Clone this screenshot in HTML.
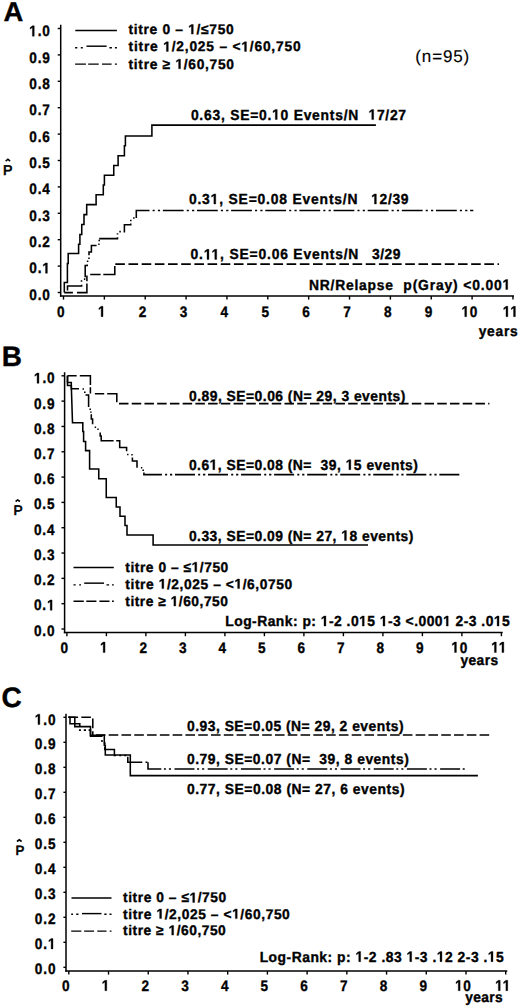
<!DOCTYPE html>
<html><head><meta charset="utf-8"><style>
html,body{margin:0;padding:0;background:#fff;}
svg{display:block;}
text{font-family:"Liberation Sans",sans-serif;fill:#000;stroke:#000;white-space:pre;text-rendering:geometricPrecision;}
.h{fill:transparent;stroke:none;}
.one{fill:#000;stroke:#000;}
path{stroke:#000;fill:none;stroke-linecap:butt;}
</style></head><body>
<svg width="520" height="1006" viewBox="0 0 520 1006" xmlns="http://www.w3.org/2000/svg">
<rect width="520" height="1006" fill="#fff"/>
<path d="M60.7 24.8 V296.75" stroke-width="1.5"/>
<path d="M59.95 296.0 H514" stroke-width="1.5"/>
<path d="M57.7 28.50 H60.7" stroke-width="1.4"/>
<g transform="translate(29.21 36.21) scale(0.9000 1)"><text id="t1" font-size="15.10" font-weight="bold" style="letter-spacing:0.998px;stroke-width:0.35px;"><tspan class="h">1</tspan>.0</text><path class="one" d="M478 0L478 1170L140 959L140 1180L493 1409L759 1409L759 0Z" transform="translate(0.000 0) scale(0.00737 -0.00737)" stroke-width="47.47"/></g>
<path d="M57.7 54.90 H60.7" stroke-width="1.4"/>
<g transform="translate(29.21 62.55) scale(0.9000 1)"><text id="t2" font-size="15.10" font-weight="bold" style="letter-spacing:0.998px;stroke-width:0.35px;">0.9</text></g>
<path d="M57.7 81.30 H60.7" stroke-width="1.4"/>
<g transform="translate(29.21 88.90) scale(0.9000 1)"><text id="t3" font-size="15.10" font-weight="bold" style="letter-spacing:0.998px;stroke-width:0.35px;">0.8</text></g>
<path d="M57.7 107.70 H60.7" stroke-width="1.4"/>
<g transform="translate(29.21 115.24) scale(0.9000 1)"><text id="t4" font-size="15.10" font-weight="bold" style="letter-spacing:0.998px;stroke-width:0.35px;">0.7</text></g>
<path d="M57.7 134.10 H60.7" stroke-width="1.4"/>
<g transform="translate(29.21 141.59) scale(0.9000 1)"><text id="t5" font-size="15.10" font-weight="bold" style="letter-spacing:0.998px;stroke-width:0.35px;">0.6</text></g>
<path d="M57.7 160.50 H60.7" stroke-width="1.4"/>
<g transform="translate(29.21 167.93) scale(0.9000 1)"><text id="t6" font-size="15.10" font-weight="bold" style="letter-spacing:0.998px;stroke-width:0.35px;">0.5</text></g>
<path d="M57.7 186.90 H60.7" stroke-width="1.4"/>
<g transform="translate(29.21 194.28) scale(0.9000 1)"><text id="t7" font-size="15.10" font-weight="bold" style="letter-spacing:0.998px;stroke-width:0.35px;">0.4</text></g>
<path d="M57.7 213.30 H60.7" stroke-width="1.4"/>
<g transform="translate(29.21 220.62) scale(0.9000 1)"><text id="t8" font-size="15.10" font-weight="bold" style="letter-spacing:0.998px;stroke-width:0.35px;">0.3</text></g>
<path d="M57.7 239.70 H60.7" stroke-width="1.4"/>
<g transform="translate(29.21 246.97) scale(0.9000 1)"><text id="t9" font-size="15.10" font-weight="bold" style="letter-spacing:0.998px;stroke-width:0.35px;">0.2</text></g>
<path d="M57.7 266.10 H60.7" stroke-width="1.4"/>
<g transform="translate(29.21 273.31) scale(0.9000 1)"><text id="t10" font-size="15.10" font-weight="bold" style="letter-spacing:0.998px;stroke-width:0.35px;">0.<tspan class="h">1</tspan></text><path class="one" d="M478 0L478 1170L140 959L140 1180L493 1409L759 1409L759 0Z" transform="translate(14.594 0) scale(0.00737 -0.00737)" stroke-width="47.47"/></g>
<path d="M57.7 292.50 H60.7" stroke-width="1.4"/>
<g transform="translate(29.21 299.66) scale(0.9000 1)"><text id="t11" font-size="15.10" font-weight="bold" style="letter-spacing:0.998px;stroke-width:0.35px;">0.0</text></g>
<path d="M63.50 296.0 V299.6" stroke-width="1.4"/>
<g transform="translate(57.12 316.70) scale(0.9000 1)"><text id="t12" font-size="15.10" font-weight="bold" style="letter-spacing:0.800px;stroke-width:0.35px;">0</text></g>
<path d="M104.36 296.0 V299.6" stroke-width="1.4"/>
<g transform="translate(97.98 316.70) scale(0.9000 1)"><text id="t13" font-size="15.10" font-weight="bold" style="letter-spacing:0.800px;stroke-width:0.35px;"><tspan class="h">1</tspan></text><path class="one" d="M478 0L478 1170L140 959L140 1180L493 1409L759 1409L759 0Z" transform="translate(0.000 0) scale(0.00737 -0.00737)" stroke-width="47.47"/></g>
<path d="M145.22 296.0 V299.6" stroke-width="1.4"/>
<g transform="translate(138.84 316.70) scale(0.9000 1)"><text id="t14" font-size="15.10" font-weight="bold" style="letter-spacing:0.800px;stroke-width:0.35px;">2</text></g>
<path d="M186.08 296.0 V299.6" stroke-width="1.4"/>
<g transform="translate(179.70 316.70) scale(0.9000 1)"><text id="t15" font-size="15.10" font-weight="bold" style="letter-spacing:0.800px;stroke-width:0.35px;">3</text></g>
<path d="M226.94 296.0 V299.6" stroke-width="1.4"/>
<g transform="translate(220.56 316.70) scale(0.9000 1)"><text id="t16" font-size="15.10" font-weight="bold" style="letter-spacing:0.800px;stroke-width:0.35px;">4</text></g>
<path d="M267.80 296.0 V299.6" stroke-width="1.4"/>
<g transform="translate(261.42 316.70) scale(0.9000 1)"><text id="t17" font-size="15.10" font-weight="bold" style="letter-spacing:0.800px;stroke-width:0.35px;">5</text></g>
<path d="M308.66 296.0 V299.6" stroke-width="1.4"/>
<g transform="translate(302.28 316.70) scale(0.9000 1)"><text id="t18" font-size="15.10" font-weight="bold" style="letter-spacing:0.800px;stroke-width:0.35px;">6</text></g>
<path d="M349.52 296.0 V299.6" stroke-width="1.4"/>
<g transform="translate(343.14 316.70) scale(0.9000 1)"><text id="t19" font-size="15.10" font-weight="bold" style="letter-spacing:0.800px;stroke-width:0.35px;">7</text></g>
<path d="M390.38 296.0 V299.6" stroke-width="1.4"/>
<g transform="translate(384.00 316.70) scale(0.9000 1)"><text id="t20" font-size="15.10" font-weight="bold" style="letter-spacing:0.800px;stroke-width:0.35px;">8</text></g>
<path d="M431.24 296.0 V299.6" stroke-width="1.4"/>
<g transform="translate(424.86 316.70) scale(0.9000 1)"><text id="t21" font-size="15.10" font-weight="bold" style="letter-spacing:0.800px;stroke-width:0.35px;">9</text></g>
<path d="M472.10 296.0 V299.6" stroke-width="1.4"/>
<g transform="translate(461.58 316.70) scale(0.9000 1)"><text id="t22" font-size="15.10" font-weight="bold" style="letter-spacing:0.800px;stroke-width:0.35px;"><tspan class="h">1</tspan>0</text><path class="one" d="M478 0L478 1170L140 959L140 1180L493 1409L759 1409L759 0Z" transform="translate(0.000 0) scale(0.00737 -0.00737)" stroke-width="47.47"/></g>
<path d="M512.96 296.0 V299.6" stroke-width="1.4"/>
<g transform="translate(502.82 316.70) scale(0.9000 1)"><text id="t23" font-size="15.10" font-weight="bold" style="letter-spacing:0.800px;stroke-width:0.35px;"><tspan class="h">1</tspan><tspan class="h">1</tspan></text><path class="one" d="M478 0L478 1170L140 959L140 1180L493 1409L759 1409L759 0Z" transform="translate(0.000 0) scale(0.00737 -0.00737)" stroke-width="47.47"/><path class="one" d="M478 0L478 1170L140 959L140 1180L493 1409L759 1409L759 0Z" transform="translate(8.375 0) scale(0.00737 -0.00737)" stroke-width="47.47"/></g>
<path d="M64.6 372.3 V633.15" stroke-width="1.5"/>
<path d="M63.849999999999994 632.4 H502.7" stroke-width="1.5"/>
<path d="M61.49999999999999 375.80 H64.6" stroke-width="1.4"/>
<g transform="translate(33.91 383.36) scale(0.9000 1)"><text id="t24" font-size="15.10" font-weight="bold" style="letter-spacing:0.998px;stroke-width:0.35px;"><tspan class="h">1</tspan>.0</text><path class="one" d="M478 0L478 1170L140 959L140 1180L493 1409L759 1409L759 0Z" transform="translate(0.000 0) scale(0.00737 -0.00737)" stroke-width="47.47"/></g>
<path d="M61.49999999999999 401.12 H64.6" stroke-width="1.4"/>
<g transform="translate(33.91 408.57) scale(0.9000 1)"><text id="t25" font-size="15.10" font-weight="bold" style="letter-spacing:0.998px;stroke-width:0.35px;">0.9</text></g>
<path d="M61.49999999999999 426.44 H64.6" stroke-width="1.4"/>
<g transform="translate(33.91 433.79) scale(0.9000 1)"><text id="t26" font-size="15.10" font-weight="bold" style="letter-spacing:0.998px;stroke-width:0.35px;">0.8</text></g>
<path d="M61.49999999999999 451.76 H64.6" stroke-width="1.4"/>
<g transform="translate(33.91 459.00) scale(0.9000 1)"><text id="t27" font-size="15.10" font-weight="bold" style="letter-spacing:0.998px;stroke-width:0.35px;">0.7</text></g>
<path d="M61.49999999999999 477.08 H64.6" stroke-width="1.4"/>
<g transform="translate(33.91 484.22) scale(0.9000 1)"><text id="t28" font-size="15.10" font-weight="bold" style="letter-spacing:0.998px;stroke-width:0.35px;">0.6</text></g>
<path d="M61.49999999999999 502.40 H64.6" stroke-width="1.4"/>
<g transform="translate(33.91 509.43) scale(0.9000 1)"><text id="t29" font-size="15.10" font-weight="bold" style="letter-spacing:0.998px;stroke-width:0.35px;">0.5</text></g>
<path d="M61.49999999999999 527.72 H64.6" stroke-width="1.4"/>
<g transform="translate(33.91 534.65) scale(0.9000 1)"><text id="t30" font-size="15.10" font-weight="bold" style="letter-spacing:0.998px;stroke-width:0.35px;">0.4</text></g>
<path d="M61.49999999999999 553.04 H64.6" stroke-width="1.4"/>
<g transform="translate(33.91 559.86) scale(0.9000 1)"><text id="t31" font-size="15.10" font-weight="bold" style="letter-spacing:0.998px;stroke-width:0.35px;">0.3</text></g>
<path d="M61.49999999999999 578.36 H64.6" stroke-width="1.4"/>
<g transform="translate(33.91 585.08) scale(0.9000 1)"><text id="t32" font-size="15.10" font-weight="bold" style="letter-spacing:0.998px;stroke-width:0.35px;">0.2</text></g>
<path d="M61.49999999999999 603.68 H64.6" stroke-width="1.4"/>
<g transform="translate(33.91 610.29) scale(0.9000 1)"><text id="t33" font-size="15.10" font-weight="bold" style="letter-spacing:0.998px;stroke-width:0.35px;">0.<tspan class="h">1</tspan></text><path class="one" d="M478 0L478 1170L140 959L140 1180L493 1409L759 1409L759 0Z" transform="translate(14.594 0) scale(0.00737 -0.00737)" stroke-width="47.47"/></g>
<path d="M61.49999999999999 629.00 H64.6" stroke-width="1.4"/>
<g transform="translate(33.91 635.51) scale(0.9000 1)"><text id="t34" font-size="15.10" font-weight="bold" style="letter-spacing:0.998px;stroke-width:0.35px;">0.0</text></g>
<path d="M66.90 632.4 V636.1999999999999" stroke-width="1.4"/>
<g transform="translate(60.52 652.50) scale(0.9000 1)"><text id="t35" font-size="15.10" font-weight="bold" style="letter-spacing:0.800px;stroke-width:0.35px;">0</text></g>
<path d="M106.40 632.4 V636.1999999999999" stroke-width="1.4"/>
<g transform="translate(100.02 652.50) scale(0.9000 1)"><text id="t36" font-size="15.10" font-weight="bold" style="letter-spacing:0.800px;stroke-width:0.35px;"><tspan class="h">1</tspan></text><path class="one" d="M478 0L478 1170L140 959L140 1180L493 1409L759 1409L759 0Z" transform="translate(0.000 0) scale(0.00737 -0.00737)" stroke-width="47.47"/></g>
<path d="M145.90 632.4 V636.1999999999999" stroke-width="1.4"/>
<g transform="translate(139.52 652.50) scale(0.9000 1)"><text id="t37" font-size="15.10" font-weight="bold" style="letter-spacing:0.800px;stroke-width:0.35px;">2</text></g>
<path d="M185.40 632.4 V636.1999999999999" stroke-width="1.4"/>
<g transform="translate(179.02 652.50) scale(0.9000 1)"><text id="t38" font-size="15.10" font-weight="bold" style="letter-spacing:0.800px;stroke-width:0.35px;">3</text></g>
<path d="M224.90 632.4 V636.1999999999999" stroke-width="1.4"/>
<g transform="translate(218.52 652.50) scale(0.9000 1)"><text id="t39" font-size="15.10" font-weight="bold" style="letter-spacing:0.800px;stroke-width:0.35px;">4</text></g>
<path d="M264.40 632.4 V636.1999999999999" stroke-width="1.4"/>
<g transform="translate(258.02 652.50) scale(0.9000 1)"><text id="t40" font-size="15.10" font-weight="bold" style="letter-spacing:0.800px;stroke-width:0.35px;">5</text></g>
<path d="M303.90 632.4 V636.1999999999999" stroke-width="1.4"/>
<g transform="translate(297.52 652.50) scale(0.9000 1)"><text id="t41" font-size="15.10" font-weight="bold" style="letter-spacing:0.800px;stroke-width:0.35px;">6</text></g>
<path d="M343.40 632.4 V636.1999999999999" stroke-width="1.4"/>
<g transform="translate(337.02 652.50) scale(0.9000 1)"><text id="t42" font-size="15.10" font-weight="bold" style="letter-spacing:0.800px;stroke-width:0.35px;">7</text></g>
<path d="M382.90 632.4 V636.1999999999999" stroke-width="1.4"/>
<g transform="translate(376.52 652.50) scale(0.9000 1)"><text id="t43" font-size="15.10" font-weight="bold" style="letter-spacing:0.800px;stroke-width:0.35px;">8</text></g>
<path d="M422.40 632.4 V636.1999999999999" stroke-width="1.4"/>
<g transform="translate(416.02 652.50) scale(0.9000 1)"><text id="t44" font-size="15.10" font-weight="bold" style="letter-spacing:0.800px;stroke-width:0.35px;">9</text></g>
<path d="M461.90 632.4 V636.1999999999999" stroke-width="1.4"/>
<g transform="translate(451.38 652.50) scale(0.9000 1)"><text id="t45" font-size="15.10" font-weight="bold" style="letter-spacing:0.800px;stroke-width:0.35px;"><tspan class="h">1</tspan>0</text><path class="one" d="M478 0L478 1170L140 959L140 1180L493 1409L759 1409L759 0Z" transform="translate(0.000 0) scale(0.00737 -0.00737)" stroke-width="47.47"/></g>
<path d="M501.40 632.4 V636.1999999999999" stroke-width="1.4"/>
<g transform="translate(491.26 652.50) scale(0.9000 1)"><text id="t46" font-size="15.10" font-weight="bold" style="letter-spacing:0.800px;stroke-width:0.35px;"><tspan class="h">1</tspan><tspan class="h">1</tspan></text><path class="one" d="M478 0L478 1170L140 959L140 1180L493 1409L759 1409L759 0Z" transform="translate(0.000 0) scale(0.00737 -0.00737)" stroke-width="47.47"/><path class="one" d="M478 0L478 1170L140 959L140 1180L493 1409L759 1409L759 0Z" transform="translate(8.375 0) scale(0.00737 -0.00737)" stroke-width="47.47"/></g>
<path d="M66.0 713.7 V971.85" stroke-width="1.5"/>
<path d="M65.25 971.1 H507.3" stroke-width="1.5"/>
<path d="M63.4 717.30 H66.0" stroke-width="1.4"/>
<g transform="translate(34.81 724.56) scale(0.9000 1)"><text id="t47" font-size="15.10" font-weight="bold" style="letter-spacing:0.998px;stroke-width:0.35px;"><tspan class="h">1</tspan>.0</text><path class="one" d="M478 0L478 1170L140 959L140 1180L493 1409L759 1409L759 0Z" transform="translate(0.000 0) scale(0.00737 -0.00737)" stroke-width="47.47"/></g>
<path d="M63.4 742.30 H66.0" stroke-width="1.4"/>
<g transform="translate(34.81 749.49) scale(0.9000 1)"><text id="t48" font-size="15.10" font-weight="bold" style="letter-spacing:0.998px;stroke-width:0.35px;">0.9</text></g>
<path d="M63.4 767.30 H66.0" stroke-width="1.4"/>
<g transform="translate(34.81 774.42) scale(0.9000 1)"><text id="t49" font-size="15.10" font-weight="bold" style="letter-spacing:0.998px;stroke-width:0.35px;">0.8</text></g>
<path d="M63.4 792.30 H66.0" stroke-width="1.4"/>
<g transform="translate(34.81 799.35) scale(0.9000 1)"><text id="t50" font-size="15.10" font-weight="bold" style="letter-spacing:0.998px;stroke-width:0.35px;">0.7</text></g>
<path d="M63.4 817.30 H66.0" stroke-width="1.4"/>
<g transform="translate(34.81 824.28) scale(0.9000 1)"><text id="t51" font-size="15.10" font-weight="bold" style="letter-spacing:0.998px;stroke-width:0.35px;">0.6</text></g>
<path d="M63.4 842.30 H66.0" stroke-width="1.4"/>
<g transform="translate(34.81 849.21) scale(0.9000 1)"><text id="t52" font-size="15.10" font-weight="bold" style="letter-spacing:0.998px;stroke-width:0.35px;">0.5</text></g>
<path d="M63.4 867.30 H66.0" stroke-width="1.4"/>
<g transform="translate(34.81 874.14) scale(0.9000 1)"><text id="t53" font-size="15.10" font-weight="bold" style="letter-spacing:0.998px;stroke-width:0.35px;">0.4</text></g>
<path d="M63.4 892.30 H66.0" stroke-width="1.4"/>
<g transform="translate(34.81 899.07) scale(0.9000 1)"><text id="t54" font-size="15.10" font-weight="bold" style="letter-spacing:0.998px;stroke-width:0.35px;">0.3</text></g>
<path d="M63.4 917.30 H66.0" stroke-width="1.4"/>
<g transform="translate(34.81 924.00) scale(0.9000 1)"><text id="t55" font-size="15.10" font-weight="bold" style="letter-spacing:0.998px;stroke-width:0.35px;">0.2</text></g>
<path d="M63.4 942.30 H66.0" stroke-width="1.4"/>
<g transform="translate(34.81 948.93) scale(0.9000 1)"><text id="t56" font-size="15.10" font-weight="bold" style="letter-spacing:0.998px;stroke-width:0.35px;">0.<tspan class="h">1</tspan></text><path class="one" d="M478 0L478 1170L140 959L140 1180L493 1409L759 1409L759 0Z" transform="translate(14.594 0) scale(0.00737 -0.00737)" stroke-width="47.47"/></g>
<path d="M63.4 967.30 H66.0" stroke-width="1.4"/>
<g transform="translate(34.81 973.86) scale(0.9000 1)"><text id="t57" font-size="15.10" font-weight="bold" style="letter-spacing:0.998px;stroke-width:0.35px;">0.0</text></g>
<path d="M68.80 971.1 V974.6" stroke-width="1.4"/>
<g transform="translate(62.02 990.70) scale(0.9000 1)"><text id="t58" font-size="15.10" font-weight="bold" style="letter-spacing:0.800px;stroke-width:0.35px;">0</text></g>
<path d="M108.52 971.1 V974.6" stroke-width="1.4"/>
<g transform="translate(101.74 990.70) scale(0.9000 1)"><text id="t59" font-size="15.10" font-weight="bold" style="letter-spacing:0.800px;stroke-width:0.35px;"><tspan class="h">1</tspan></text><path class="one" d="M478 0L478 1170L140 959L140 1180L493 1409L759 1409L759 0Z" transform="translate(0.000 0) scale(0.00737 -0.00737)" stroke-width="47.47"/></g>
<path d="M148.24 971.1 V974.6" stroke-width="1.4"/>
<g transform="translate(141.46 990.70) scale(0.9000 1)"><text id="t60" font-size="15.10" font-weight="bold" style="letter-spacing:0.800px;stroke-width:0.35px;">2</text></g>
<path d="M187.96 971.1 V974.6" stroke-width="1.4"/>
<g transform="translate(181.18 990.70) scale(0.9000 1)"><text id="t61" font-size="15.10" font-weight="bold" style="letter-spacing:0.800px;stroke-width:0.35px;">3</text></g>
<path d="M227.68 971.1 V974.6" stroke-width="1.4"/>
<g transform="translate(220.90 990.70) scale(0.9000 1)"><text id="t62" font-size="15.10" font-weight="bold" style="letter-spacing:0.800px;stroke-width:0.35px;">4</text></g>
<path d="M267.40 971.1 V974.6" stroke-width="1.4"/>
<g transform="translate(260.62 990.70) scale(0.9000 1)"><text id="t63" font-size="15.10" font-weight="bold" style="letter-spacing:0.800px;stroke-width:0.35px;">5</text></g>
<path d="M307.12 971.1 V974.6" stroke-width="1.4"/>
<g transform="translate(300.34 990.70) scale(0.9000 1)"><text id="t64" font-size="15.10" font-weight="bold" style="letter-spacing:0.800px;stroke-width:0.35px;">6</text></g>
<path d="M346.84 971.1 V974.6" stroke-width="1.4"/>
<g transform="translate(340.06 990.70) scale(0.9000 1)"><text id="t65" font-size="15.10" font-weight="bold" style="letter-spacing:0.800px;stroke-width:0.35px;">7</text></g>
<path d="M386.56 971.1 V974.6" stroke-width="1.4"/>
<g transform="translate(379.78 990.70) scale(0.9000 1)"><text id="t66" font-size="15.10" font-weight="bold" style="letter-spacing:0.800px;stroke-width:0.35px;">8</text></g>
<path d="M426.28 971.1 V974.6" stroke-width="1.4"/>
<g transform="translate(419.50 990.70) scale(0.9000 1)"><text id="t67" font-size="15.10" font-weight="bold" style="letter-spacing:0.800px;stroke-width:0.35px;">9</text></g>
<path d="M466.00 971.1 V974.6" stroke-width="1.4"/>
<g transform="translate(455.08 990.70) scale(0.9000 1)"><text id="t68" font-size="15.10" font-weight="bold" style="letter-spacing:0.800px;stroke-width:0.35px;"><tspan class="h">1</tspan>0</text><path class="one" d="M478 0L478 1170L140 959L140 1180L493 1409L759 1409L759 0Z" transform="translate(0.000 0) scale(0.00737 -0.00737)" stroke-width="47.47"/></g>
<path d="M505.72 971.1 V974.6" stroke-width="1.4"/>
<g transform="translate(495.18 990.70) scale(0.9000 1)"><text id="t69" font-size="15.10" font-weight="bold" style="letter-spacing:0.800px;stroke-width:0.35px;"><tspan class="h">1</tspan><tspan class="h">1</tspan></text><path class="one" d="M478 0L478 1170L140 959L140 1180L493 1409L759 1409L759 0Z" transform="translate(0.000 0) scale(0.00737 -0.00737)" stroke-width="47.47"/><path class="one" d="M478 0L478 1170L140 959L140 1180L493 1409L759 1409L759 0Z" transform="translate(8.375 0) scale(0.00737 -0.00737)" stroke-width="47.47"/></g>
<g transform="translate(3.52 21.15) scale(1.0000 1)"><text id="t70" font-size="27.39" font-weight="bold" style="letter-spacing:0.000px;stroke-width:0.35px;">A</text></g>
<g transform="translate(1.63 366.15) scale(1.0000 1)"><text id="t71" font-size="27.97" font-weight="bold" style="letter-spacing:0.000px;stroke-width:0.35px;">B</text></g>
<g transform="translate(1.52 706.87) scale(1.0000 1)"><text id="t72" font-size="28.17" font-weight="bold" style="letter-spacing:0.000px;stroke-width:0.35px;">C</text></g>
<g transform="translate(478.71 336.10) scale(0.9500 1)"><text id="t73" font-size="14.50" font-weight="bold" style="letter-spacing:0.781px;stroke-width:0.35px;">years</text></g>
<g transform="translate(460.41 664.50) scale(0.9500 1)"><text id="t74" font-size="14.50" font-weight="bold" style="letter-spacing:0.465px;stroke-width:0.35px;">years</text></g>
<g transform="translate(465.31 1002.45) scale(0.9500 1)"><text id="t75" font-size="14.50" font-weight="bold" style="letter-spacing:0.360px;stroke-width:0.35px;">years</text></g>
<g transform="translate(3.06 174.80) scale(1.0000 1)"><text id="t76" font-size="14.20" font-weight="normal" style="letter-spacing:0.000px;stroke-width:0.7px;">P</text></g>
<path d="M5.70 161.10 L7.90 159.20 L10.10 161.10" stroke-width="1.6" fill="none"/>
<g transform="translate(13.60 515.10) scale(1.0000 1)"><text id="t77" font-size="13.77" font-weight="normal" style="letter-spacing:0.000px;stroke-width:0.7px;">P</text></g>
<path d="M15.60 501.50 L17.75 499.90 L19.90 501.50" stroke-width="1.6" fill="none"/>
<g transform="translate(15.43 854.90) scale(1.0000 1)"><text id="t78" font-size="13.33" font-weight="normal" style="letter-spacing:0.000px;stroke-width:0.7px;">P</text></g>
<path d="M17.00 841.50 L19.30 839.80 L21.60 841.50" stroke-width="1.6" fill="none"/>
<g transform="translate(415.33 62.38) scale(1.0000 1)"><text id="t79" font-size="17.00" font-weight="normal" style="letter-spacing:0.857px;stroke-width:0.15px;">(n=95)</text></g>
<path d="M75.30 30.45 H116.90" stroke-width="1.45"/>
<path d="M86.50 46.2 H106.60" stroke-width="1.45"/>
<path d="M75.10 47.75 H77.30 M80.80 47.75 H82.80 M109.40 47.75 H111.90 M114.90 47.75 H116.90" stroke-width="1.45"/>
<path d="M75.10 64.1 H85.90 M88.20 64.1 H98.70 M102.00 64.1 H111.60 M114.90 64.1 H116.90" stroke-width="1.45"/>
<g transform="translate(128.41 34.11) scale(0.9900 1)"><text id="t80" font-size="13.90" font-weight="bold" style="letter-spacing:0.710px;stroke-width:0.35px;">titre 0 – <tspan class="h">1</tspan>/≤750</text><path class="one" d="M478 0L478 1170L140 959L140 1180L493 1409L759 1409L759 0Z" transform="translate(60.375 0) scale(0.00679 -0.00679)" stroke-width="51.57"/></g>
<g transform="translate(128.51 51.41) scale(0.9900 1)"><text id="t81" font-size="13.90" font-weight="bold" style="letter-spacing:0.820px;stroke-width:0.35px;">titre <tspan class="h">1</tspan>/2,025 – &lt;<tspan class="h">1</tspan>/60,750</text><path class="one" d="M478 0L478 1170L140 959L140 1180L493 1409L759 1409L759 0Z" transform="translate(35.031 0) scale(0.00679 -0.00679)" stroke-width="51.57"/><path class="one" d="M478 0L478 1170L140 959L140 1180L493 1409L759 1409L759 0Z" transform="translate(113.969 0) scale(0.00679 -0.00679)" stroke-width="51.57"/></g>
<g transform="translate(128.51 68.71) scale(0.9900 1)"><text id="t82" font-size="13.90" font-weight="bold" style="letter-spacing:0.723px;stroke-width:0.35px;">titre ≥ <tspan class="h">1</tspan>/60,750</text><path class="one" d="M478 0L478 1170L140 959L140 1180L493 1409L759 1409L759 0Z" transform="translate(47.375 0) scale(0.00679 -0.00679)" stroke-width="51.57"/></g>
<path d="M73.50 567.5 H113.80" stroke-width="1.45"/>
<path d="M84.20 583.15 H104.05" stroke-width="1.45"/>
<path d="M73.50 584.85 H75.70 M79.20 584.85 H81.00 M106.50 584.85 H109.10 M112.00 584.85 H113.80" stroke-width="1.45"/>
<path d="M73.50 601.25 H83.80 M86.30 601.25 H96.40 M99.40 601.25 H109.50 M112.00 601.25 H113.80" stroke-width="1.45"/>
<g transform="translate(125.31 571.71) scale(0.9900 1)"><text id="t83" font-size="13.90" font-weight="bold" style="letter-spacing:0.555px;stroke-width:0.35px;">titre 0 – ≤<tspan class="h">1</tspan>/750</text><path class="one" d="M478 0L478 1170L140 959L140 1180L493 1409L759 1409L759 0Z" transform="translate(67.000 0) scale(0.00679 -0.00679)" stroke-width="51.57"/></g>
<g transform="translate(125.31 588.61) scale(0.9900 1)"><text id="t84" font-size="13.90" font-weight="bold" style="letter-spacing:0.601px;stroke-width:0.35px;">titre <tspan class="h">1</tspan>/2,025 – &lt;<tspan class="h">1</tspan>/6,0750</text><path class="one" d="M478 0L478 1170L140 959L140 1180L493 1409L759 1409L759 0Z" transform="translate(33.719 0) scale(0.00679 -0.00679)" stroke-width="51.57"/><path class="one" d="M478 0L478 1170L140 959L140 1180L493 1409L759 1409L759 0Z" transform="translate(110.234 0) scale(0.00679 -0.00679)" stroke-width="51.57"/></g>
<g transform="translate(125.31 605.91) scale(0.9900 1)"><text id="t85" font-size="13.90" font-weight="bold" style="letter-spacing:0.528px;stroke-width:0.35px;">titre ≥ <tspan class="h">1</tspan>/60,750</text><path class="one" d="M478 0L478 1170L140 959L140 1180L493 1409L759 1409L759 0Z" transform="translate(45.812 0) scale(0.00679 -0.00679)" stroke-width="51.57"/></g>
<path d="M71.50 897.95 H111.50" stroke-width="1.45"/>
<path d="M81.95 913.6 H101.50" stroke-width="1.45"/>
<path d="M71.20 914.2 H73.00 M76.20 914.2 H78.50 M104.30 914.2 H106.60 M109.50 914.2 H111.50" stroke-width="1.45"/>
<path d="M71.20 931.1 H81.35 M84.10 931.1 H94.10 M97.30 931.1 H106.50 M109.70 931.1 H111.50" stroke-width="1.45"/>
<g transform="translate(123.11 902.41) scale(0.9900 1)"><text id="t86" font-size="13.90" font-weight="bold" style="letter-spacing:0.562px;stroke-width:0.35px;">titre 0 – ≤<tspan class="h">1</tspan>/750</text><path class="one" d="M478 0L478 1170L140 959L140 1180L493 1409L759 1409L759 0Z" transform="translate(67.078 0) scale(0.00679 -0.00679)" stroke-width="51.57"/></g>
<g transform="translate(123.11 918.61) scale(0.9900 1)"><text id="t87" font-size="13.90" font-weight="bold" style="letter-spacing:0.593px;stroke-width:0.35px;">titre <tspan class="h">1</tspan>/2,025 – &lt;<tspan class="h">1</tspan>/60,750</text><path class="one" d="M478 0L478 1170L140 959L140 1180L493 1409L759 1409L759 0Z" transform="translate(33.672 0) scale(0.00679 -0.00679)" stroke-width="51.57"/><path class="one" d="M478 0L478 1170L140 959L140 1180L493 1409L759 1409L759 0Z" transform="translate(110.109 0) scale(0.00679 -0.00679)" stroke-width="51.57"/></g>
<g transform="translate(123.11 935.11) scale(0.9900 1)"><text id="t88" font-size="13.90" font-weight="bold" style="letter-spacing:0.535px;stroke-width:0.35px;">titre ≥ <tspan class="h">1</tspan>/60,750</text><path class="one" d="M478 0L478 1170L140 959L140 1180L493 1409L759 1409L759 0Z" transform="translate(45.875 0) scale(0.00679 -0.00679)" stroke-width="51.57"/></g>
<g transform="translate(190.90 119.50) scale(0.9500 1)"><text id="t89" font-size="14.60" font-weight="bold" style="letter-spacing:0.797px;stroke-width:0.35px;">0.63, SE=0.<tspan class="h">1</tspan>0 Events/N</text><path class="one" d="M478 0L478 1170L140 959L140 1180L493 1409L759 1409L759 0Z" transform="translate(85.453 0) scale(0.00713 -0.00713)" stroke-width="49.10"/></g>
<g transform="translate(368.52 119.60) scale(0.9500 1)"><text id="t90" font-size="14.60" font-weight="bold" style="letter-spacing:0.740px;stroke-width:0.35px;"><tspan class="h">1</tspan>7/27</text><path class="one" d="M478 0L478 1170L140 959L140 1180L493 1409L759 1409L759 0Z" transform="translate(0.000 0) scale(0.00713 -0.00713)" stroke-width="49.10"/></g>
<g transform="translate(188.90 204.00) scale(0.9500 1)"><text id="t91" font-size="14.60" font-weight="bold" style="letter-spacing:0.862px;stroke-width:0.35px;">0.3<tspan class="h">1</tspan>, SE=0.08 Events/N</text><path class="one" d="M478 0L478 1170L140 959L140 1180L493 1409L759 1409L759 0Z" transform="translate(22.875 0) scale(0.00713 -0.00713)" stroke-width="49.10"/></g>
<g transform="translate(371.22 204.00) scale(0.9500 1)"><text id="t92" font-size="14.60" font-weight="bold" style="letter-spacing:0.695px;stroke-width:0.35px;"><tspan class="h">1</tspan>2/39</text><path class="one" d="M478 0L478 1170L140 959L140 1180L493 1409L759 1409L759 0Z" transform="translate(0.000 0) scale(0.00713 -0.00713)" stroke-width="49.10"/></g>
<g transform="translate(190.60 259.40) scale(0.9500 1)"><text id="t93" font-size="14.60" font-weight="bold" style="letter-spacing:0.855px;stroke-width:0.35px;">0.<tspan class="h">1</tspan><tspan class="h">1</tspan>, SE=0.06 Events/N</text><path class="one" d="M478 0L478 1170L140 959L140 1180L493 1409L759 1409L759 0Z" transform="translate(13.891 0) scale(0.00713 -0.00713)" stroke-width="49.10"/><path class="one" d="M478 0L478 1170L140 959L140 1180L493 1409L759 1409L759 0Z" transform="translate(22.062 0) scale(0.00713 -0.00713)" stroke-width="49.10"/></g>
<g transform="translate(372.00 259.30) scale(0.9500 1)"><text id="t94" font-size="14.60" font-weight="bold" style="letter-spacing:0.546px;stroke-width:0.35px;">3/29</text></g>
<g transform="translate(308.95 289.65) scale(0.9500 1)"><text id="t95" font-size="14.60" font-weight="bold" style="letter-spacing:0.823px;stroke-width:0.35px;">NR/Relapse</text></g>
<g transform="translate(403.35 289.50) scale(0.9500 1)"><text id="t96" font-size="14.60" font-weight="bold" style="letter-spacing:0.887px;stroke-width:0.35px;">p(Gray) &lt;0.00<tspan class="h">1</tspan></text><path class="one" d="M478 0L478 1170L140 959L140 1180L493 1409L759 1409L759 0Z" transform="translate(104.422 0) scale(0.00713 -0.00713)" stroke-width="49.10"/></g>
<g transform="translate(189.00 401.20) scale(0.9500 1)"><text id="t97" font-size="14.60" font-weight="bold" style="letter-spacing:0.506px;stroke-width:0.35px;">0.89, SE=0.06 (N= 29, 3 events)</text></g>
<g transform="translate(188.90 469.70) scale(0.9500 1)"><text id="t98" font-size="14.60" font-weight="bold" style="letter-spacing:0.508px;stroke-width:0.35px;">0.6<tspan class="h">1</tspan>, SE=0.08 (N=  39, <tspan class="h">1</tspan>5 events)</text><path class="one" d="M478 0L478 1170L140 959L140 1180L493 1409L759 1409L759 0Z" transform="translate(21.812 0) scale(0.00713 -0.00713)" stroke-width="49.10"/><path class="one" d="M478 0L478 1170L140 959L140 1180L493 1409L759 1409L759 0Z" transform="translate(165.031 0) scale(0.00713 -0.00713)" stroke-width="49.10"/></g>
<g transform="translate(188.90 540.60) scale(0.9500 1)"><text id="t99" font-size="14.60" font-weight="bold" style="letter-spacing:0.505px;stroke-width:0.35px;">0.33, SE=0.09 (N= 27, <tspan class="h">1</tspan>8 events)</text><path class="one" d="M478 0L478 1170L140 959L140 1180L493 1409L759 1409L759 0Z" transform="translate(160.391 0) scale(0.00713 -0.00713)" stroke-width="49.10"/></g>
<g transform="translate(225.25 626.05) scale(0.9500 1)"><text id="t100" font-size="14.60" font-weight="bold" style="letter-spacing:0.500px;stroke-width:0.35px;">Log-Rank: p: <tspan class="h">1</tspan>-2 .0<tspan class="h">1</tspan>5 <tspan class="h">1</tspan>-3 &lt;.000<tspan class="h">1</tspan> 2-3 .0<tspan class="h">1</tspan>5</text><path class="one" d="M478 0L478 1170L140 959L140 1180L493 1409L759 1409L759 0Z" transform="translate(100.547 0) scale(0.00713 -0.00713)" stroke-width="49.10"/><path class="one" d="M478 0L478 1170L140 959L140 1180L493 1409L759 1409L759 0Z" transform="translate(140.875 0) scale(0.00713 -0.00713)" stroke-width="49.10"/><path class="one" d="M478 0L478 1170L140 959L140 1180L493 1409L759 1409L759 0Z" transform="translate(162.672 0) scale(0.00713 -0.00713)" stroke-width="49.10"/><path class="one" d="M478 0L478 1170L140 959L140 1180L493 1409L759 1409L759 0Z" transform="translate(229.266 0) scale(0.00713 -0.00713)" stroke-width="49.10"/><path class="one" d="M478 0L478 1170L140 959L140 1180L493 1409L759 1409L759 0Z" transform="translate(282.766 0) scale(0.00713 -0.00713)" stroke-width="49.10"/></g>
<g transform="translate(187.00 730.60) scale(0.9500 1)"><text id="t101" font-size="14.60" font-weight="bold" style="letter-spacing:0.517px;stroke-width:0.35px;">0.93, SE=0.05 (N= 29, 2 events)</text></g>
<g transform="translate(186.90 764.20) scale(0.9500 1)"><text id="t102" font-size="14.60" font-weight="bold" style="letter-spacing:0.548px;stroke-width:0.35px;">0.79, SE=0.07 (N=  39, 8 events)</text></g>
<g transform="translate(187.00 793.60) scale(0.9500 1)"><text id="t103" font-size="14.60" font-weight="bold" style="letter-spacing:0.548px;stroke-width:0.35px;">0.77, SE=0.08 (N= 27, 6 events)</text></g>
<g transform="translate(259.65 961.65) scale(0.9500 1)"><text id="t104" font-size="14.60" font-weight="bold" style="letter-spacing:0.527px;stroke-width:0.35px;">Log-Rank: p: <tspan class="h">1</tspan>-2 .83 <tspan class="h">1</tspan>-3 .<tspan class="h">1</tspan>2 2-3 .<tspan class="h">1</tspan>5</text><path class="one" d="M478 0L478 1170L140 959L140 1180L493 1409L759 1409L759 0Z" transform="translate(100.891 0) scale(0.00713 -0.00713)" stroke-width="49.10"/><path class="one" d="M478 0L478 1170L140 959L140 1180L493 1409L759 1409L759 0Z" transform="translate(154.609 0) scale(0.00713 -0.00713)" stroke-width="49.10"/><path class="one" d="M478 0L478 1170L140 959L140 1180L493 1409L759 1409L759 0Z" transform="translate(186.469 0) scale(0.00713 -0.00713)" stroke-width="49.10"/><path class="one" d="M478 0L478 1170L140 959L140 1180L493 1409L759 1409L759 0Z" transform="translate(240.188 0) scale(0.00713 -0.00713)" stroke-width="49.10"/></g>
<path d="M64.3 292.5 V282.5 H67.4 V263.5 H68.2 V253.5 H78.6 V244.2 H79.9 V234.4 H81.75 V224.4 H84 V214.6 H86.7 V204.6 H96.1 V194.8 H103.3 V185 H104.4 V175.2 H113.75 V165.5 H118.1 V155.7 H124.4 V145.8 H125.4 V135.9 H151.9 V125.1 H375.9" stroke-width="1.55"/>
<path d="M67.5 290.6 V286.0 H81.6 V284.8 M81.5 281.7 V280.2 M83.9 279.1 H85.3 M85.2 277.2 V265.5 H87.2 V264.4 M87.6 262 V260.5 M89 259 V257.5 M89 255.2 V252 H91.4 V245.4 H96.6 M98.2 244.2 H99.6 M99.2 241.2 V239.8 M99.2 238.6 H117.5 V237.2 M117.5 234.6 V233.2 M119.3 231.6 H120.8 M123.6 231.6 H124.4 V224.8 H130.8 V223.6 M130.8 221.3 V219.8 M133.1 218 H134.6" stroke-width="1.55"/>
<path d="M136.3 218 V210.4 H473.3" stroke-width="1.55" stroke-dasharray="20.8 3.1 2.1 3.2 2.2 2.74" stroke-dashoffset="0"/>
<path d="M64.3 292.6 H72.9 M77.0 292.6 H86.9 V283.6 M86.9 281.3 V275.5 M90.2 274.5 H100.6 M103.3 274.5 H114.8 V266.0" stroke-width="1.55"/>
<path d="M115.3 264.1 H499" stroke-width="1.55" stroke-dasharray="9.6 3.58" stroke-dashoffset="0"/>
<path d="M67.5 375.8 V385.4 H71.3 L72.5 422.7 H82.8 V431.5 H83.6 V441.5 H85.6 V450.6 H89.6 V469 H98.75 V478.75 H106.25 V497.5 H116.25 V506.9 H120 V516.25 H125 V525.5 H127 V535 H153.1 V545 H368" stroke-width="1.55"/>
<path d="M67.5 375.8 V382.5 H71.3 V388.8 H79.0 M82.5 389.0 H84 M84.8 391.6 V393 M85.5 395 H88.6 V407 M90.2 408.6 V410 M90.9 411.4 V412.8 M91.3 414.3 V419 H92.6 V424.2 M94.7 427.3 H96.1 M97.3 429.2 H98.7 M100.2 432.4 V436 H101.2 V440.8 H113.6 M116.2 440.8 H119.7 V447.5 H126.6 V451.3 M127.1 454.4 H128.5 M131.3 454.8 H132.7 M132.4 457.4 V460.9 H137 V467.8 M140.9 467.8 H142.3 M143.2 469.6 V471" stroke-width="1.55"/>
<path d="M143.9 472.6 V474.6 H459.6" stroke-width="1.55" stroke-dasharray="20 3.2 2 2.9 2.2 2.75" stroke-dashoffset="0"/>
<path d="M67.5 375.8 H76.7 M79.8 375.8 H90.4 V385 M90.4 387.3 V393.5 M94.9 393.7 H104.2 M107.2 393.7 H116.8 V402.2" stroke-width="1.55"/>
<path d="M119.0 403.6 H489.4" stroke-width="1.55" stroke-dasharray="9.5 3.23" stroke-dashoffset="0"/>
<path d="M68.5 717.3 H74.8 V726.6 H90.5 V735.2 H104.3 V745.2 H105.3 V755 H130.3 V775.6 H477.9" stroke-width="1.55"/>
<path d="M68.5 717.3 H70 V723.7 H79.8 V730.1 H90.5 V736.3 H102 V743 H104.8 V749.5 H114.4 V755.5 H127.8 V762.2 H148" stroke-width="1.55" stroke-dasharray="20 3.2 2 2.9 2.2 2.6" stroke-dashoffset="0"/>
<path d="M148 762.2 V768.9 H465.4" stroke-width="1.55" stroke-dasharray="20 2.6 2 3 2.1 3.5" stroke-dashoffset="0"/>
<path d="M68.5 717.3 H92.8 V735" stroke-width="1.55" stroke-dasharray="9.6 3.19" stroke-dashoffset="0"/>
<path d="M92.8 735 H490.4" stroke-width="1.55" stroke-dasharray="9.6 3.19" stroke-dashoffset="-3.1"/>
</svg>
</body></html>
